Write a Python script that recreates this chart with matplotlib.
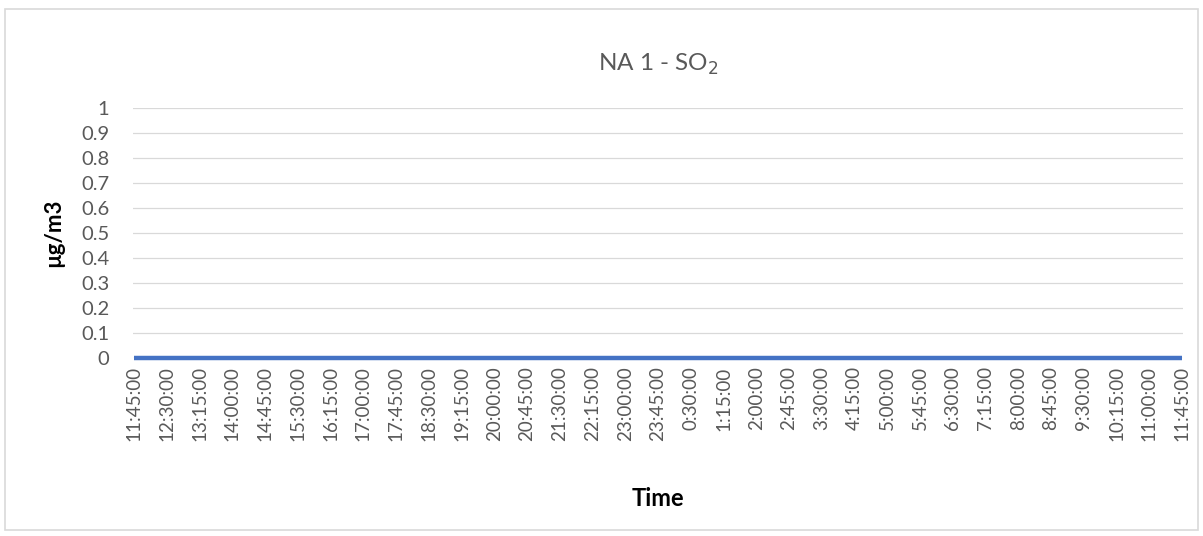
import matplotlib.pyplot as plt
from matplotlib.patches import Rectangle

# 15-minute readings, 11:45 to 11:45 next day, all zero
times = []
for i in range(97):
    m = (11 * 60 + 45 + 15 * i) % (24 * 60)
    times.append('%d:%02d:00' % (m // 60, m % 60))
so2 = [0.0] * 97

label_every = 3
tick_pos = list(range(0, len(times), label_every))
tick_labels = [times[i] for i in tick_pos]

plt.rcParams['font.family'] = ['Lato', 'DejaVu Sans']

fig = plt.figure(figsize=(12.03, 5.36), dpi=100)
fig.patches.append(Rectangle((0.004, 0.011), 0.992, 0.972, transform=fig.transFigure,
                             fill=False, edgecolor='#d9d9d9', linewidth=1.2))
ax = fig.add_axes([0.1106, 0.3321, 0.8728, 0.4664])

ax.plot(range(len(so2)), so2, color='#4472C4', linewidth=3.2, solid_capstyle='butt',
        zorder=3, clip_on=False)

ax.set_ylim(0, 1)
ax.set_yticks([i / 10 for i in range(11)])
ax.set_yticklabels(['0'] + ['0.%d' % i for i in range(1, 10)] + ['1'])
ax.set_xlim(-0.1, len(times) - 0.9)
ax.set_xticks(tick_pos)
ax.set_xticklabels(tick_labels, rotation=90)

ax.grid(axis='y', color='#d9d9d9', linewidth=0.9)
ax.set_axisbelow(True)
for s in ax.spines.values():
    s.set_visible(False)
ax.tick_params(length=0, colors='#595959')
ax.tick_params(axis='x', pad=6, labelsize=13.5)
ax.tick_params(axis='y', pad=17, labelsize=14.5)

ax.set_title('NA 1 - SO$_2$', fontsize=17.5, color='#595959', pad=27)
ax.set_xlabel('Time', fontsize=17, fontweight='bold', labelpad=33)
ax.set_ylabel('µg/m3', fontsize=16, fontweight='bold', labelpad=12)

fig.savefig('out.png', dpi=100)
